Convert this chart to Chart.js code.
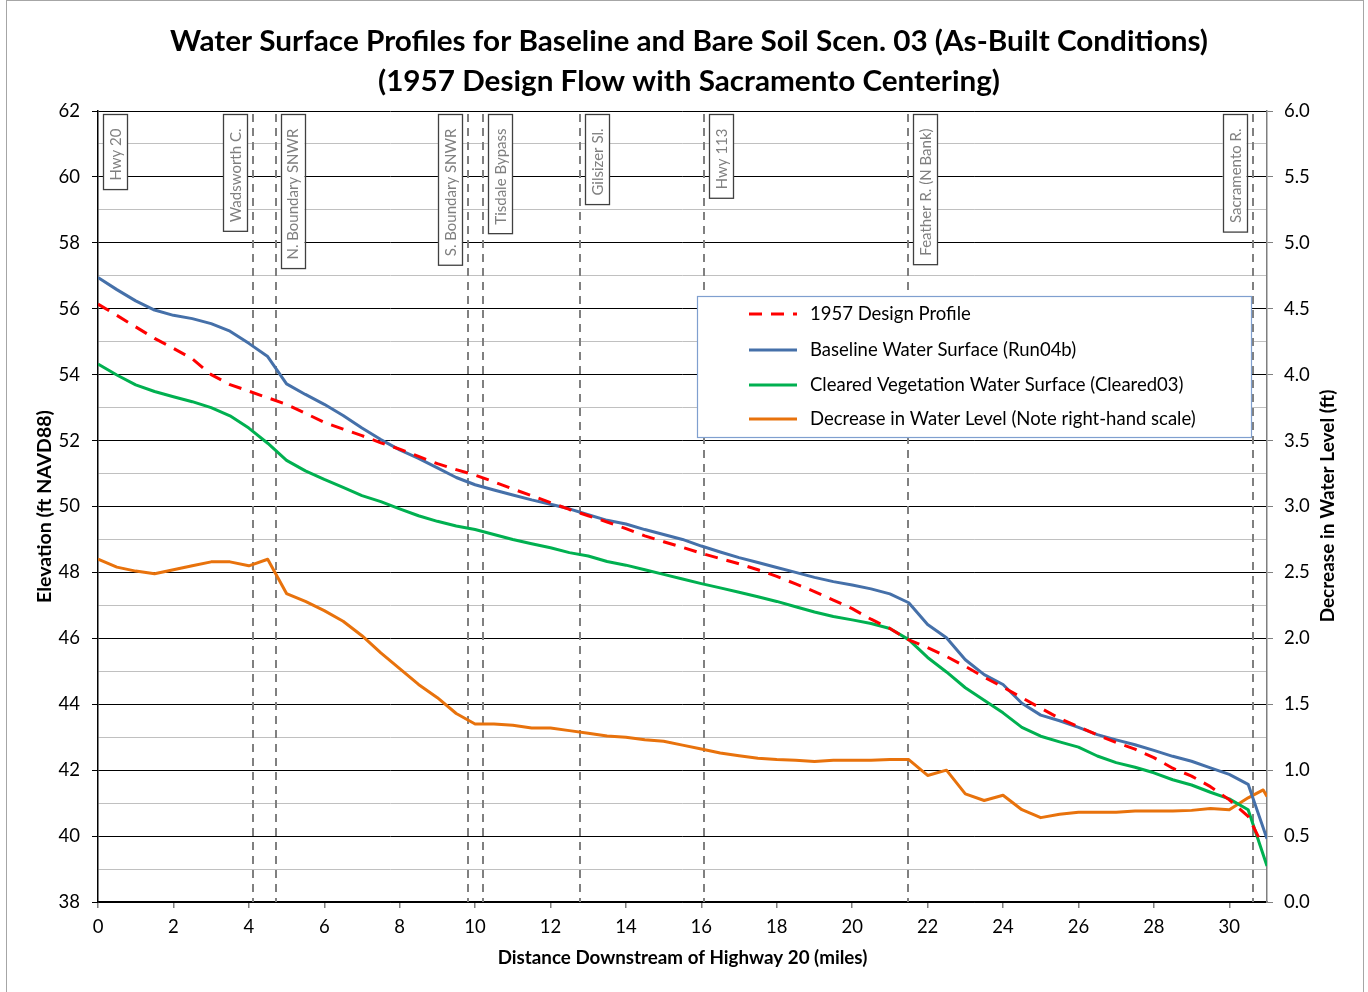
<!DOCTYPE html>
<html>
<head>
<meta charset="utf-8">
<script src="https://cdn.jsdelivr.net/npm/chart.js@4.4.1/dist/chart.umd.min.js"></script>
<style>
  html, body { margin: 0; padding: 0; background: #fff; }
  #wrap { width: 1368px; height: 992px; }
</style>
</head>
<body>
<div id="wrap"><canvas id="profileChart" width="1368" height="992"></canvas></div>
<script>
// river miles downstream of Hwy 20
const miles = [0, 0.5, 1, 1.5, 2, 2.5, 3, 3.5, 4, 4.5, 5, 5.5, 6, 6.5, 7, 7.5, 8, 8.5, 9, 9.5,
  10, 10.5, 11, 11.5, 12, 12.5, 13, 13.5, 14, 14.5, 15, 15.5, 16, 16.5, 17, 17.5, 18, 18.5, 19, 19.5,
  20, 20.5, 21, 21.5, 22, 22.5, 23, 23.5, 24, 24.5, 25, 25.5, 26, 26.5, 27, 27.5, 28, 28.5, 29, 29.5,
  30, 30.5, 31];

const baselineWS = [56.95, 56.58, 56.24, 55.96, 55.80, 55.70, 55.55, 55.32, 54.95, 54.55, 53.72, 53.40, 53.10, 52.76, 52.38, 52.03, 51.72, 51.46, 51.17, 50.88,
  50.66, 50.50, 50.35, 50.20, 50.07, 49.93, 49.75, 49.58, 49.47, 49.30, 49.15, 49.00, 48.80, 48.62, 48.45, 48.30, 48.15, 48.00, 47.85, 47.72,
  47.62, 47.50, 47.35, 47.08, 46.42, 46.02, 45.35, 44.90, 44.60, 44.03, 43.67, 43.50, 43.30, 43.08, 42.92, 42.77, 42.60, 42.42, 42.27, 42.07,
  41.87, 41.57, 39.92];

const clearedWS = [54.32, 53.99, 53.69, 53.49, 53.33, 53.18, 53.00, 52.75, 52.38, 51.92, 51.40, 51.08, 50.82, 50.58, 50.33, 50.15, 49.93, 49.72, 49.55, 49.41,
  49.30, 49.15, 49.00, 48.87, 48.75, 48.60, 48.50, 48.33, 48.22, 48.08, 47.94, 47.80, 47.66, 47.53, 47.40, 47.26, 47.12, 46.96, 46.80, 46.66,
  46.56, 46.45, 46.30, 45.96, 45.42, 44.98, 44.50, 44.12, 43.74, 43.30, 43.03, 42.86, 42.70, 42.43, 42.23, 42.09, 41.92, 41.71, 41.55, 41.33,
  41.13, 40.80, 39.09];

const designMiles = [0, 0.5, 1, 1.5, 2, 2.5, 3, 3.5, 4, 4.5, 5, 5.5, 6, 6.5, 7, 7.5, 8, 8.5, 9, 9.5,
  10, 10.5, 11, 11.5, 12, 12.5, 13, 13.5, 14, 14.5, 15, 15.5, 16, 16.5, 17, 17.5, 18, 18.5, 19, 19.5,
  20, 20.5, 21, 21.5, 22, 22.5, 23, 23.5, 24, 24.5, 25, 25.5, 26, 26.5, 27, 27.5, 28, 28.5, 29, 29.5,
  30, 30.5, 30.85];
const designProfile = [56.14, 55.80, 55.45, 55.10, 54.80, 54.48, 54.00, 53.70, 53.50, 53.30, 53.10, 52.83, 52.55, 52.35, 52.15, 51.93, 51.74, 51.52, 51.30, 51.12,
  50.95, 50.75, 50.53, 50.33, 50.12, 49.91, 49.72, 49.53, 49.33, 49.11, 48.93, 48.76, 48.58, 48.42, 48.26, 48.08, 47.88, 47.65, 47.42, 47.16,
  46.90, 46.58, 46.30, 45.95, 45.72, 45.45, 45.15, 44.82, 44.52, 44.20, 43.88, 43.57, 43.32, 43.07, 42.84, 42.64, 42.38, 42.06, 41.82, 41.50,
  41.10, 40.60, 39.80];

const decreaseMiles = [0, 0.5, 1, 1.5, 2, 2.5, 3, 3.5, 4, 4.5, 5, 5.5, 6, 6.5, 7, 7.5, 8, 8.5, 9, 9.5,
  10, 10.5, 11, 11.5, 12, 12.5, 13, 13.5, 14, 14.5, 15, 15.5, 16, 16.5, 17, 17.5, 18, 18.5, 19, 19.5,
  20, 20.5, 21, 21.5, 22, 22.5, 23, 23.5, 24, 24.5, 25, 25.5, 26, 26.5, 27, 27.5, 28, 28.5, 29, 29.5,
  30, 30.5, 30.9, 31];
const decreaseWS = [2.60, 2.54, 2.51, 2.49, 2.52, 2.55, 2.58, 2.58, 2.55, 2.60, 2.34, 2.28, 2.21, 2.13, 2.02, 1.89, 1.77, 1.65, 1.55, 1.43,
  1.35, 1.35, 1.34, 1.32, 1.32, 1.30, 1.28, 1.26, 1.25, 1.23, 1.22, 1.19, 1.16, 1.13, 1.11, 1.09, 1.08, 1.075, 1.065, 1.075,
  1.075, 1.075, 1.08, 1.08, 0.96, 1.00, 0.82, 0.77, 0.81, 0.70, 0.64, 0.665, 0.68, 0.68, 0.68, 0.69, 0.69, 0.69, 0.695, 0.71,
  0.70, 0.79, 0.85, 0.80];

// landmarks along the bypass
const landmarkMiles = [0, 4.12, 4.71, 9.81, 10.22, 12.79, 16.07, 21.49, 30.62];
const landmarkNames = ["Hwy 20", "Wadsworth C.", "N. Boundary SNWR", "S. Boundary SNWR", "Tisdale Bypass",
  "Gilsizer Sl.", "Hwy 113", "Feather R. (N Bank)", "Sacramento R."];

const seriesLabels = ["1957 Design Profile", "Baseline Water Surface (Run04b)",
  "Cleared Vegetation Water Surface (Cleared03)", "Decrease in Water Level (Note right-hand scale)"];

const titleLines = ["Water Surface Profiles for Baseline and Bare Soil Scen. 03 (As-Built Conditions)",
  "(1957 Design Flow with Sacramento Centering)"];

// which side of the dashed line each label box sits on
const boxSide = ["right", "left", "right", "left", "right", "right", "right", "right", "left"];

const FONT = "Lato, 'Open Sans', sans-serif";

function pts(xs, ys) {
  return xs.map((x, i) => ({ x: x, y: ys[i] }));
}

const overlay = {
  id: "overlay",
  beforeDraw(chart) {
    const ctx = chart.ctx;
    ctx.save();
    ctx.fillStyle = "#fff";
    ctx.fillRect(0, 0, chart.width, chart.height);
    ctx.strokeStyle = "#a6a6a6";
    ctx.lineWidth = 1;
    ctx.strokeRect(6.5, 0.5, 1357, 1000);
    ctx.restore();
  },
  beforeDatasetsDraw(chart) {
    const ctx = chart.ctx;
    const xs = chart.scales.x;
    const area = chart.chartArea;
    ctx.save();
    ctx.strokeStyle = "#808080";
    ctx.lineWidth = 2;
    ctx.setLineDash([8, 6]);
    landmarkMiles.forEach(m => {
      const px = Math.round(xs.getPixelForValue(m));
      if (px <= area.left + 1) return;
      ctx.beginPath();
      ctx.moveTo(px, area.top + 3);
      ctx.lineTo(px, area.bottom);
      ctx.stroke();
    });
    ctx.restore();
  },
  afterDatasetsDraw(chart) {
    const ctx = chart.ctx;
    const xs = chart.scales.x;
    const area = chart.chartArea;
    ctx.save();
    // landmark label boxes
    ctx.font = "15px " + FONT;
    landmarkMiles.forEach((m, i) => {
      const px = xs.getPixelForValue(m);
      const tw = ctx.measureText(landmarkNames[i]).width;
      const w = 24, h = tw + 23;
      const left = boxSide[i] === "right" ? px + 5 : px - 6 - w;
      const top = area.top + 3.5;
      ctx.fillStyle = "#fff";
      ctx.fillRect(left, top, w, h);
      ctx.strokeStyle = "#404040";
      ctx.lineWidth = 1.3;
      ctx.setLineDash([]);
      ctx.strokeRect(Math.round(left) + 0.5, top, w, h);
      ctx.save();
      ctx.translate(left + w / 2 + 1, top + h - 9);
      ctx.rotate(-Math.PI / 2);
      ctx.fillStyle = "#7f7f7f";
      ctx.textAlign = "left";
      ctx.textBaseline = "middle";
      ctx.fillText(landmarkNames[i], 0, 0);
      ctx.restore();
    });
    ctx.restore();
  },
  afterDraw(chart) {
    const ctx = chart.ctx;
    ctx.save();
    // title
    ctx.fillStyle = "#000";
    ctx.textBaseline = "middle";
    ctx.textAlign = "center";
    ctx.font = "bold 29px " + FONT;
    const targets = [1038, 622];
    const ys = [42, 82];
    titleLines.forEach((t, i) => {
      const w = ctx.measureText(t).width;
      const sx = targets[i] / w;
      ctx.save();
      ctx.translate(689, ys[i]);
      ctx.scale(sx, 1);
      ctx.fillText(t, 0, 0);
      ctx.restore();
    });

    // right axis title, reading upward
    ctx.save();
    ctx.translate(1328, 506);
    ctx.rotate(-Math.PI / 2);
    ctx.font = "bold 19px " + FONT;
    ctx.fillText("Decrease in Water Level (ft)", 0, 0);
    ctx.restore();

    // legend
    const lx = 697.5, ly = 296.5, lw = 554, lh = 141;
    ctx.fillStyle = "#fff";
    ctx.fillRect(lx, ly, lw, lh);
    ctx.strokeStyle = "#7f9fcf";
    ctx.lineWidth = 1.2;
    ctx.strokeRect(lx, ly, lw, lh);
    const rows = [314, 350, 385, 419];
    ctx.font = "18.5px " + FONT;
    ctx.textAlign = "left";
    chart.data.datasets.forEach((ds, i) => {
      ctx.strokeStyle = ds.borderColor;
      ctx.lineWidth = 3;
      ctx.setLineDash(ds.borderDash || []);
      ctx.beginPath();
      ctx.moveTo(749, rows[i]);
      ctx.lineTo(797, rows[i]);
      ctx.stroke();
      ctx.setLineDash([]);
      ctx.fillStyle = "#000";
      ctx.fillText(ds.label, 810, rows[i]);
    });
    ctx.restore();
  }
};

const ctx = document.getElementById("profileChart").getContext("2d");

new Chart(ctx, {
  type: "line",
  data: {
    datasets: [
      {
        label: seriesLabels[0],
        data: pts(designMiles, designProfile),
        borderColor: "#ff0000",
        borderWidth: 3,
        borderDash: [13, 9],
        yAxisID: "y"
      },
      {
        label: seriesLabels[1],
        data: pts(miles, baselineWS),
        borderColor: "#4570a9",
        borderWidth: 3,
        yAxisID: "y"
      },
      {
        label: seriesLabels[2],
        data: pts(miles, clearedWS),
        borderColor: "#00b050",
        borderWidth: 3,
        yAxisID: "y"
      },
      {
        label: seriesLabels[3],
        data: pts(decreaseMiles, decreaseWS),
        borderColor: "#e8720c",
        borderWidth: 3,
        yAxisID: "y2"
      }
    ]
  },
  options: {
    responsive: false,
    animation: false,
    layout: { padding: { top: 111, left: 0, right: 0, bottom: 0 } },
    elements: { point: { radius: 0 }, line: { tension: 0, borderJoinStyle: "round" } },
    plugins: {
      legend: { display: false },
      title: { display: false },
      tooltip: { enabled: false }
    },
    scales: {
      x: {
        type: "linear",
        min: 0,
        max: 31,
        afterFit: s => { s.height = 90; },
        ticks: {
          stepSize: 2,
          includeBounds: false,
          padding: 8,
          color: "#000",
          font: { family: FONT, size: 18.5 },
          maxRotation: 0
        },
        grid: { drawOnChartArea: false, tickLength: 6, tickColor: "#7f7f7f", lineWidth: 1.5 },
        border: { color: "#000", width: 1.5 },
        title: {
          display: true,
          text: "Distance Downstream of Highway 20 (miles)",
          color: "#000",
          font: { family: FONT, size: 18.8, weight: "bold" },
          padding: { top: 0, bottom: 23 }
        }
      },
      y: {
        position: "left",
        min: 38,
        max: 62,
        afterFit: s => { s.width = 98; },
        ticks: {
          stepSize: 1,
          padding: 12,
          color: "#000",
          font: { family: FONT, size: 18.5 },
          callback: v => (v % 2 === 0 ? v : "")
        },
        grid: {
          color: c => (c.tick && c.tick.value % 2 === 0 ? "#000" : "#c0c0c0"),
          tickColor: c => (c.tick && c.tick.value % 2 === 0 ? "#000" : "rgba(0,0,0,0)"),
          tickLength: 6,
          lineWidth: 1
        },
        border: { color: "#000", width: 1.5 },
        title: {
          display: true,
          text: "Elevation (ft NAVD88)",
          color: "#000",
          font: { family: FONT, size: 19.5, weight: "bold" },
          padding: { top: 33, bottom: 0 }
        }
      },
      y2: {
        position: "right",
        min: 0,
        max: 6,
        afterFit: s => { s.width = 101; },
        ticks: {
          stepSize: 0.5,
          padding: 11,
          color: "#000",
          font: { family: FONT, size: 18.5 },
          callback: v => Number(v).toFixed(1)
        },
        grid: { drawOnChartArea: false, tickLength: 6, tickColor: "#7f7f7f" },
        border: { color: "#7f7f7f", width: 1.5 }
      }
    }
  },
  plugins: [overlay]
});
</script>
</body>
</html>
